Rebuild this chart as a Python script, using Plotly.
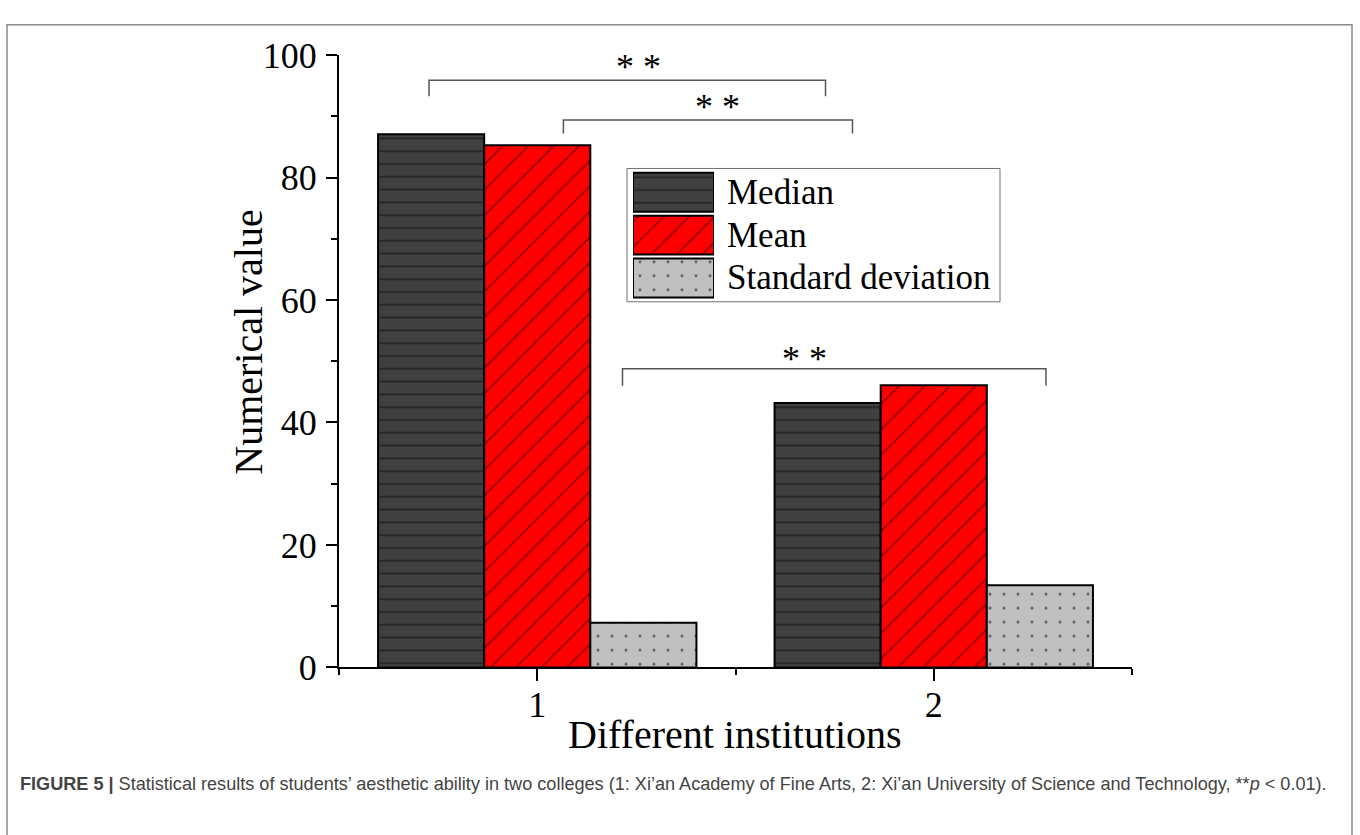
import plotly.graph_objects as go

# ---------------- data ----------------
institutions = [1, 2]
series_names = ["Median", "Mean", "Standard deviation"]
median_vals = [87.1, 43.2]
mean_vals = [85.3, 46.1]
sd_vals = [7.3, 13.4]

y_ticks = [0, 20, 40, 60, 80, 100]
x_ticks = [1, 2]

# significance brackets: (x_left, x_right, y_top, y_foot, star_x, star_y)
brackets = [
    (0.727, 1.727, 95.9, 93.3, 1.255, 98.1),
    (1.066, 1.795, 89.4, 87.2, 1.455, 91.6),
    (1.215, 2.283, 48.8, 46.0, 1.674, 50.4),
]
star_text = "* *"

caption = ("<b>FIGURE 5 |</b> Statistical results of students\u2019 aesthetic ability in two colleges "
           "(1: Xi\u2019an Academy of Fine Arts, 2: Xi\u2019an University of Science and Technology, "
           "**<i>p</i> &lt; 0.01).")

# ---------------- style ----------------
W, H = 1360, 835
SERIF = "Liberation Serif"
styles = [
    dict(color="#404040", pattern=dict(shape="-", fgcolor="black", bgcolor="#404040", size=12.8, solidity=0.12)),
    dict(color="#ff0000", pattern=dict(shape="/", fgcolor="black", bgcolor="#ff0000", size=18, solidity=0.08)),
    dict(color="#c0c0c0", pattern=dict(shape=".", fgcolor="black", bgcolor="#c0c0c0", size=14, solidity=0.035)),
]


def px(x):
    return x / W


def py(y):
    return 1 - y / H


fig = go.Figure()
values = [median_vals, mean_vals, sd_vals]
for name, vals, st in zip(series_names, values, styles):
    fig.add_trace(go.Bar(
        x=institutions, y=vals, name=name,
        marker=dict(color=st["color"], pattern=st["pattern"],
                    line=dict(color="black", width=2)),
        showlegend=False, xaxis="x", yaxis="y",
    ))

# custom legend swatches on a hidden auxiliary axis
for i, (name, st) in enumerate(zip(series_names, styles)):
    fig.add_trace(go.Bar(
        x=[1], y=[i], base=0, orientation="h", width=0.91,
        marker=dict(color=st["color"], pattern=st["pattern"],
                    line=dict(color="black", width=2)),
        showlegend=False, xaxis="x2", yaxis="y2", hoverinfo="skip",
    ))

shapes = []
annotations = []

# outer border of figure panel
shapes.append(dict(type="path", xref="paper", yref="paper",
                   path=f"M {px(7)},{py(900)} L {px(7)},{py(6)} L {px(1352)},{py(6)} L {px(1352)},{py(900)}",
                   line=dict(color="#8a8a8a", width=1.5)))

# legend box
shapes.append(dict(type="rect", xref="paper", yref="paper",
                   x0=px(627), x1=px(1000), y0=py(297), y1=py(157),
                   line=dict(color="#707070", width=1)))
for i, name in enumerate(series_names):
    annotations.append(dict(xref="paper", yref="paper", x=px(725), y=py(182 + 45 * i),
                            xanchor="left", yanchor="middle", showarrow=False,
                            text=name, font=dict(family=SERIF, size=35, color="black")))

# brackets
for (x0, x1, yt, yf, sx, sy) in brackets:
    shapes.append(dict(type="path", xref="x", yref="y",
                       path=f"M {x0},{yf} L {x0},{yt} L {x1},{yt} L {x1},{yf}",
                       line=dict(color="#555555", width=1.5)))
    annotations.append(dict(xref="x", yref="y", x=sx, y=sy, xanchor="center", yanchor="middle",
                            showarrow=False, text=star_text,
                            font=dict(family=SERIF, size=36, color="black")))

# axis titles
annotations.append(dict(xref="paper", yref="paper", x=px(734.5), y=py(752), xanchor="center",
                        yanchor="middle", showarrow=False, text="Different institutions",
                        font=dict(family=SERIF, size=40, color="black")))
annotations.append(dict(xref="paper", yref="paper", x=px(249), y=py(339), xanchor="center",
                        yanchor="middle", showarrow=False, text="Numerical value", textangle=-90,
                        font=dict(family=SERIF, size=40, color="black")))

# caption
annotations.append(dict(xref="paper", yref="paper", x=px(18), y=py(803), xanchor="left",
                        yanchor="middle", showarrow=False, text=caption,
                        font=dict(family="Liberation Sans", size=18.1, color="#444444")))

fig.update_layout(
    width=W, height=H, margin=dict(l=0, r=0, t=0, b=0),
    paper_bgcolor="white", plot_bgcolor="white",
    barmode="group", bargap=0.197, bargroupgap=0,
    font=dict(family=SERIF, size=36, color="black"),
    xaxis=dict(domain=[px(339), px(1132)], range=[0.5, 2.5], tickmode="array", tickvals=x_ticks,
               showline=True, linecolor="black", linewidth=2, ticks="outside", ticklen=12,
               tickwidth=2, tickcolor="black", showgrid=False, zeroline=False,
               ticklabelstandoff=-8,
               tickfont=dict(family=SERIF, size=36),
               minor=dict(tickmode="array", tickvals=[0.5, 1.5, 2.5], ticks="outside", ticklen=6,
                          tickwidth=2, tickcolor="black", showgrid=False)),
    yaxis=dict(domain=[py(681), py(38)], range=[0, 100], tickmode="array", tickvals=y_ticks,
               showline=True, linecolor="black", linewidth=2, ticks="outside", ticklen=11,
               tickwidth=2, tickcolor="black", showgrid=False, zeroline=False,
               ticklabelstandoff=2,
               tickfont=dict(family=SERIF, size=36),
               minor=dict(tickmode="linear", tick0=10, dtick=20, ticks="outside", ticklen=6,
                          tickwidth=2, tickcolor="black", showgrid=False)),
    xaxis2=dict(domain=[px(633), px(714)], range=[0, 1], visible=False, anchor="y2", fixedrange=True),
    yaxis2=dict(domain=[py(294.5), py(159.5)], range=[2.5, -0.5], visible=False, anchor="x2",
                fixedrange=True),
    shapes=shapes, annotations=annotations,
)

fig.write_html("out.html")
